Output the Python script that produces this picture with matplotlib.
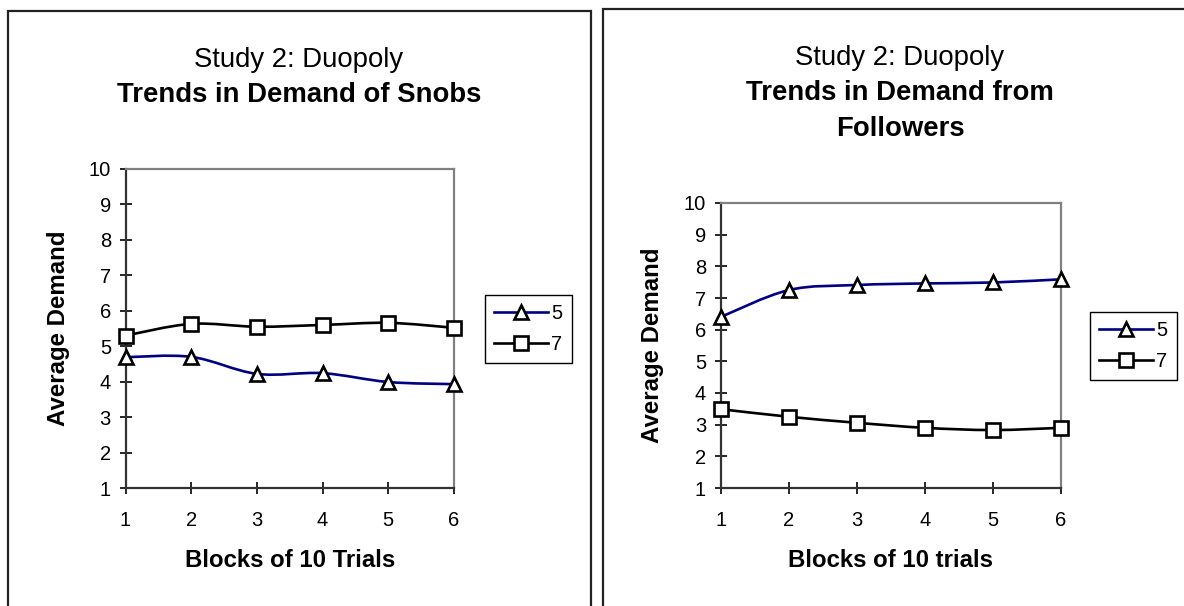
import numpy as np
import matplotlib
matplotlib.use("Agg")
import matplotlib.pyplot as plt
from matplotlib.path import Path
from matplotlib.patches import PathPatch, Rectangle
from matplotlib.lines import Line2D

plt.rcParams['font.family'] = ['Liberation Sans', 'DejaVu Sans']

blocks = [1, 2, 3, 4, 5, 6]
series_names = ["5", "7"]

snobs_5 = [4.69, 4.70, 4.22, 4.24, 3.99, 3.93]
snobs_7 = [5.30, 5.63, 5.55, 5.60, 5.66, 5.52]

followers_5 = [6.40, 7.25, 7.41, 7.46, 7.49, 7.59]
followers_7 = [3.49, 3.25, 3.06, 2.90, 2.83, 2.90]

title_top = "Study 2: Duopoly"
left_title = "Trends in Demand of Snobs"
right_title = "Trends in Demand from\nFollowers"
ylabel = "Average Demand"
left_xlabel = "Blocks of 10 Trials"
right_xlabel = "Blocks of 10 trials"
yticks = list(range(1, 11))

W, H = 1184, 606
fig = plt.figure(figsize=(W / 100, H / 100), dpi=100)

BLUE = "#000080"
TICK_FS = 14.5
LABEL_FS = 17.3
TITLE_FS = 19.8


def smooth_path(x, y):
    x = np.asarray(x, float)
    y = np.asarray(y, float)
    px_ = np.concatenate([[x[0]], x, [x[-1]]])
    py_ = np.concatenate([[y[0]], y, [y[-1]]])
    verts = [(x[0], y[0])]
    codes = [Path.MOVETO]
    for i in range(1, len(px_) - 2):
        c1 = (px_[i] + (px_[i + 1] - px_[i - 1]) / 6, py_[i] + (py_[i + 1] - py_[i - 1]) / 6)
        c2 = (px_[i + 1] - (px_[i + 2] - px_[i]) / 6, py_[i + 1] - (py_[i + 2] - py_[i]) / 6)
        verts += [c1, c2, (px_[i + 1], py_[i + 1])]
        codes += [Path.CURVE4] * 3
    return Path(verts, codes)


def draw_panel(rect, d5, d7, legend_xy):
    ax = fig.add_axes(rect)
    for data, color, marker in [(d5, BLUE, '^'), (d7, 'black', 's')]:
        ax.add_patch(PathPatch(smooth_path(blocks, data), facecolor='none',
                               edgecolor=color, lw=1.9, zorder=3))
        ax.plot(blocks, data, linestyle='none', marker=marker,
                ms=10.5 if marker == '^' else 9.8,
                mfc='white', mec='black', mew=1.9, zorder=4, clip_on=False)
    ax.set_xlim(1, 6)
    ax.set_ylim(1, 10)
    ax.set_xticks(blocks)
    ax.set_yticks(yticks)
    ax.tick_params(direction='inout', length=9, width=1.2, labelsize=TICK_FS,
                   colors='black')
    ax.tick_params(axis='x', pad=12)
    ax.tick_params(axis='y', pad=6)
    for s in ['left', 'bottom']:
        ax.spines[s].set_color('#333333')
        ax.spines[s].set_linewidth(1.6)
    for s in ['top', 'right']:
        ax.spines[s].set_color('#808080')
        ax.spines[s].set_linewidth(1.6)
    handles = [Line2D([], [], color=BLUE, lw=1.9, marker='^', ms=10.5, mfc='white', mec='black', mew=1.9),
               Line2D([], [], color='black', lw=1.9, marker='s', ms=9.8, mfc='white', mec='black', mew=1.9)]
    leg = fig.legend(handles, series_names, loc='upper left', bbox_to_anchor=legend_xy,
                     bbox_transform=fig.transFigure, fontsize=TICK_FS, frameon=True,
                     fancybox=False, edgecolor='black', handlelength=2.7,
                     handletextpad=0.15, borderpad=0.45, labelspacing=0.6,
                     borderaxespad=0, framealpha=1)
    leg.get_frame().set_linewidth(1.0)
    return ax


def px(x):
    return x / W


def py(y):
    return 1 - y / H


# Left panel
draw_panel([px(125.5), py(488), px(454 - 125.5), (488 - 169) / H],
           snobs_5, snobs_7, (px(485), py(295)))
# Right panel
draw_panel([px(720.7), py(488), px(1061 - 720.7), (488 - 203) / H],
           followers_5, followers_7, (px(1090), py(312)))

# Panel frames
fig.add_artist(Rectangle((px(7.7), -0.2), px(591 - 7.7), py(11) + 0.2,
                         transform=fig.transFigure, fill=False,
                         edgecolor='#222222', lw=1.6, clip_on=False))
fig.add_artist(Rectangle((px(603), -0.2), 0.8, py(9) + 0.2,
                         transform=fig.transFigure, fill=False,
                         edgecolor='#222222', lw=1.6, clip_on=False))

# Titles
fig.text(px(299), py(66.7), title_top, ha='center', va='baseline', fontsize=TITLE_FS)
fig.text(px(299), py(101.7), left_title, ha='center', va='baseline', fontsize=TITLE_FS,
         fontweight='bold')
fig.text(px(900), py(65), title_top, ha='center', va='baseline', fontsize=TITLE_FS)
for i, line in enumerate(right_title.split("\n")):
    fig.text(px(900), py(100 + 36 * i), line, ha='center', va='baseline', fontsize=TITLE_FS,
             fontweight='bold')

# Axis labels
fig.text(px(59), py(328.5), ylabel, rotation=90, ha='center', va='center',
         fontsize=LABEL_FS, fontweight='bold')
fig.text(px(652.5), py(345.5), ylabel, rotation=90, ha='center', va='center',
         fontsize=LABEL_FS, fontweight='bold')
fig.text(px(289.75), py(566.7), left_xlabel, ha='center', va='baseline',
         fontsize=LABEL_FS, fontweight='bold')
fig.text(px(890.9), py(566.7), right_xlabel, ha='center', va='baseline',
         fontsize=LABEL_FS, fontweight='bold')

fig.savefig("out.png", dpi=100, facecolor='white')
